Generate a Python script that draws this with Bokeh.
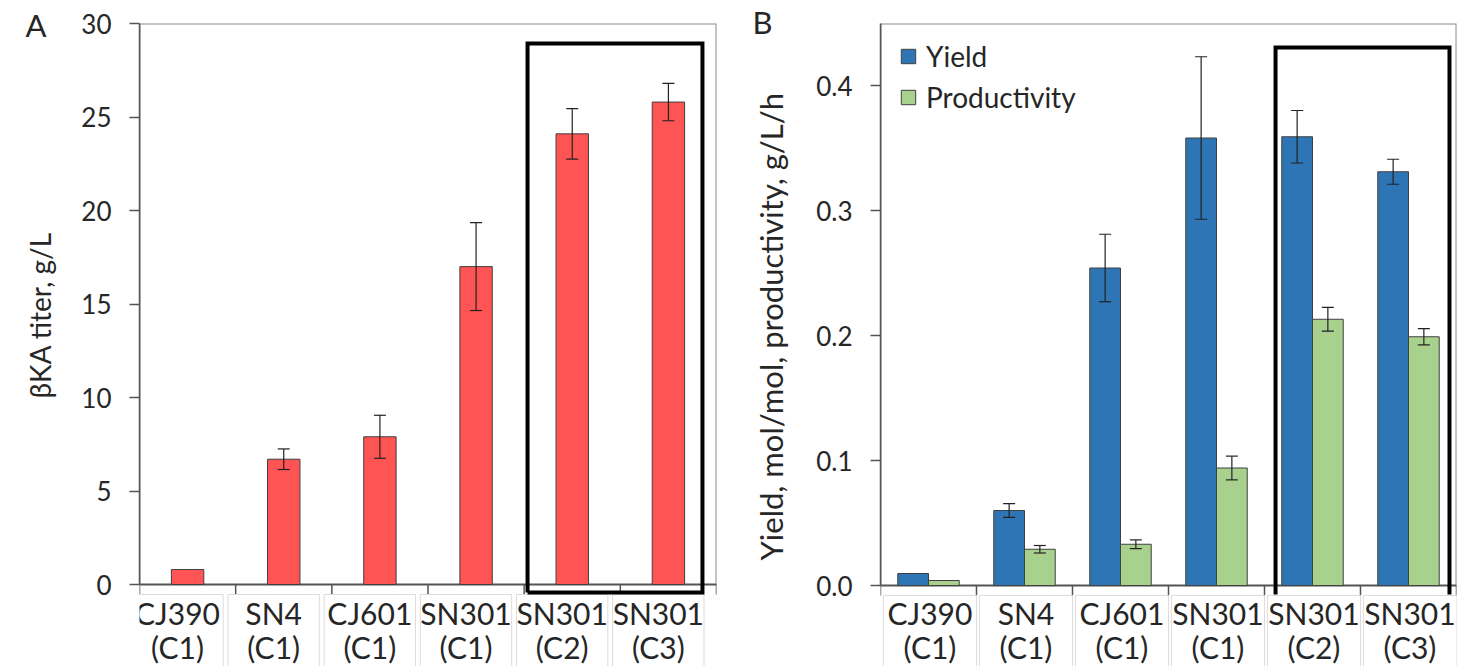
from bokeh.plotting import figure
from bokeh.models import (Range1d, FixedTicker, Whisker, TeeHead, ColumnDataSource,
                          Legend, LegendItem, Title, NumeralTickFormatter)
from bokeh.layouts import row
from bokeh.embed import file_html
from bokeh.resources import INLINE
from bokeh.core.properties import value

# ---------------- data ----------------
strains = ["CJ390", "SN4", "CJ601", "SN301", "SN301", "SN301"]
conditions = ["(C1)", "(C1)", "(C1)", "(C1)", "(C2)", "(C3)"]

titer = [0.8, 6.7, 7.9, 17.0, 24.1, 25.8]
titer_err = [0.0, 0.55, 1.15, 2.35, 1.35, 1.0]

yield_ = [0.0096, 0.060, 0.254, 0.358, 0.359, 0.331]
yield_err = [0.0, 0.0055, 0.027, 0.065, 0.021, 0.010]
prod = [0.004, 0.029, 0.033, 0.094, 0.213, 0.199]
prod_err = [0.0, 0.003, 0.0035, 0.0095, 0.0095, 0.0065]

titer_ticks = [0, 5, 10, 15, 20, 25, 30]
rate_ticks = [0.0, 0.1, 0.2, 0.3, 0.4]

# ---------------- style ----------------
FONT = "Lato"
TXT = "#262626"
AX = "#555555"
RED = "#FF5454"
BLUE = "#2E75B6"
GREEN = "#A9D18E"
EDGE = "#404040"
CELL = "#dcdcdc"

n = len(strains)
centers = [i + 0.5 for i in range(n)]
H = 666
TOP = 23


def make_panel(width, left, right, y1, zero_px, ppu, ticks, ylabel, title_px,
               title_offset, title_standoff, cell_l, cell_r):
    y0 = -(H - zero_px) / ppu
    p = figure(width=width, height=H, x_range=Range1d(0, n), y_range=Range1d(y0, y1),
               output_backend="svg", toolbar_location=None, x_axis_location=None,
               min_border_left=left, min_border_right=right, min_border_top=TOP,
               min_border_bottom=0)
    p.xgrid.visible = False
    p.ygrid.visible = False
    p.outline_line_color = None
    ax = p.yaxis[0]
    ax.bounds = (0, y1)
    ax.ticker = FixedTicker(ticks=ticks)
    ax.axis_line_color = AX
    ax.axis_line_width = 1.5
    ax.major_tick_line_color = AX
    ax.major_tick_line_width = 1.5
    ax.major_tick_out = 10
    ax.major_tick_in = 0
    ax.minor_tick_line_color = None
    ax.major_label_text_font = FONT
    ax.major_label_text_font_size = "26px"
    ax.major_label_text_color = TXT
    ax.major_label_standoff = 18
    # y-axis title, placed along the plotted value range
    p.add_layout(Title(text=ylabel, align="left", vertical_align="middle",
                       offset=title_offset, standoff=title_standoff, text_font=FONT,
                       text_font_size=title_px, text_color=TXT,
                       text_font_style="normal"), "left")
    # frame outline (plot area only)
    p.quad(left=[0], right=[n], bottom=[0], top=[y1], fill_color=None,
           line_color="#8a8a8a", line_width=2)
    # baseline with category boundary ticks
    tick = 10 / ppu
    p.segment(x0=[0], x1=[n], y0=[0], y1=[0], line_color=AX, line_width=1.5)
    bx = list(range(n + 1))
    p.segment(x0=bx, x1=bx, y0=[0] * (n + 1), y1=[-tick] * (n + 1),
              line_color=AX, line_width=1.5)
    # label cells
    p.quad(left=[i + cell_l for i in range(n)], right=[i + cell_r for i in range(n)],
           top=[-tick] * n, bottom=[y0 - 1] * n, fill_color=None,
           line_color=CELL, line_width=1)
    cx = [i + (cell_l + cell_r) / 2 for i in range(n)]
    for txt, ypx in ((strains, 612), (conditions, 646)):
        p.text(x=cx, y=[-(ypx - zero_px) / ppu] * n, text=txt, text_font=value(FONT),
               text_font_size="30px", text_align="center", text_baseline="middle",
               text_color=TXT)
    return p


def whiskers(p, xs, vals, errs):
    rows = [(x, v, e) for x, v, e in zip(xs, vals, errs) if e > 0]
    src = ColumnDataSource(dict(x=[r[0] for r in rows],
                                upper=[r[1] + r[2] for r in rows],
                                lower=[r[1] - r[2] for r in rows]))
    w = Whisker(source=src, base="x", upper="upper", lower="lower", dimension="height",
                line_color="#222222", line_width=1.2, level="annotation",
                upper_head=TeeHead(size=12, line_color="#222222", line_width=1.2),
                lower_head=TeeHead(size=12, line_color="#222222", line_width=1.2))
    p.add_layout(w)


def letter(p, text, offset, standoff):
    p.add_layout(Title(text=text, align="left", offset=offset, standoff=standoff,
                       text_font=FONT, text_font_size="31px", text_color=TXT,
                       text_font_style="normal"), "above")


# ---------------- panel A ----------------
pA = make_panel(725, 139, 9, 30, 584, 18.7, titer_ticks, "βKA titer, g/L", "28px",
                268, 41, -0.08, 0.87)
pA.vbar(x=centers, top=titer, width=0.337, bottom=0, fill_color=RED, line_color=EDGE,
        line_width=1)
whiskers(pA, centers, titer, titer_err)
boxA = dict(left=4.035, right=5.854, bottom=-0.43, top=28.93)
pA.line(x=[boxA["left"], boxA["left"], boxA["right"], boxA["right"], boxA["left"]],
        y=[boxA["bottom"], boxA["top"], boxA["top"], boxA["bottom"], boxA["bottom"]],
        line_color="black", line_width=4, line_join="miter")
letter(pA, "A", -114, -41)

# ---------------- panel B ----------------
pB = make_panel(734, 155, 3, 0.4496, 585, 1250.0, rate_ticks,
                "Yield, mol/mol, productivity, g/L/h", "31px", 106, 45, 0.03, 1.0)
pB.yaxis[0].formatter = NumeralTickFormatter(format="0.0")
bw = 0.32
xb = [c - bw / 2 for c in centers]
xg = [c + bw / 2 for c in centers]
rb = pB.vbar(x=xb, top=yield_, width=bw, bottom=0, fill_color=BLUE, line_color=EDGE,
             line_width=1)
rg = pB.vbar(x=xg, top=prod, width=bw, bottom=0, fill_color=GREEN, line_color=EDGE,
             line_width=1)
whiskers(pB, xb, yield_, yield_err)
whiskers(pB, xg, prod, prod_err)
boxB = dict(left=4.115, right=5.927, bottom=-0.0072, top=0.4304)
pB.line(x=[boxB["left"], boxB["left"], boxB["right"], boxB["right"]],
        y=[boxB["bottom"], boxB["top"], boxB["top"], boxB["bottom"]],
        line_color="black", line_width=4, line_join="miter")
letter(pB, "B", -128, -34)

frame_h = H - TOP
legend = Legend(items=[LegendItem(label="Yield", renderers=[rb]),
                       LegendItem(label="Productivity", renderers=[rg])],
                location=(19, frame_h - 19 - 71 - 1), orientation="vertical")
legend.border_line_color = None
legend.background_fill_alpha = 0
legend.padding = 0
legend.margin = 0
legend.spacing = 7
legend.glyph_width = 18
legend.glyph_height = 18
legend.label_height = 18
legend.label_standoff = 9
legend.label_text_font = FONT
legend.label_text_font_size = "28px"
legend.label_text_color = TXT
pB.add_layout(legend)

layout = row(pA, pB)
open("out.html", "w").write(file_html(layout, INLINE))
